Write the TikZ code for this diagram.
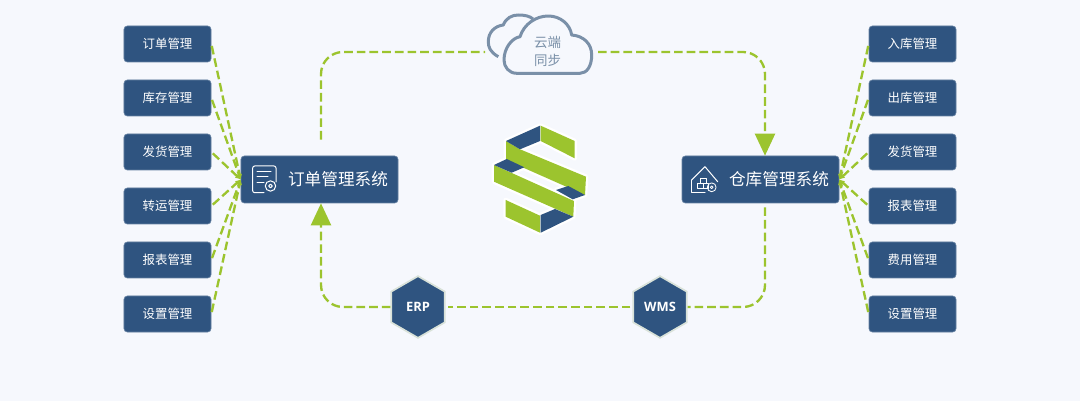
\documentclass[tikz,border=0pt]{standalone}
\usepackage{fontspec}
\setmainfont{Noto Sans CJK SC}
\newfontfamily\latinfont{Open Sans}
\usetikzlibrary{arrows.meta,shapes.geometric}
\definecolor{boxblue}{HTML}{2F5480}
\definecolor{linkgreen}{HTML}{9CC42E}
\definecolor{pagebg}{HTML}{F6F8FD}
\definecolor{cloudline}{HTML}{7A90A8}
\tikzset{
	leafbox/.style={draw=boxblue!75!white,fill=boxblue,rounded corners=.1cm,line width=.02cm,minimum width=2.61cm,minimum height=1.08cm,inner sep=0,text=white,font=\fontsize{10.6}{12}\selectfont},
	sysbox/.style={leafbox,minimum width=4.71cm,minimum height=1.41cm,font=\fontsize{14.2}{16}\selectfont},
	hexnode/.style={regular polygon,regular polygon sides=6,shape border rotate=30,draw=green!25!black!15!white,fill=boxblue,line width=.05cm,minimum size=1.85cm,inner sep=0,text=white,font=\latinfont\bfseries\fontsize{11}{13}\selectfont},
	link/.style={draw=linkgreen,line width=.07cm,dash pattern=on .26cm off .12cm},
	bigtip/.style={-{Triangle[length=.66cm,width=.6cm]}},
	smalltip/.style={-{Latex[length=.16cm,width=.16cm]}},
	iconline/.style={draw=white,line width=.03cm,line join=round,line cap=round}
}
% logo pieces
\def\logogreenparts{(540.7,125.7) -- (574.7,141) -- (574.7,158.3) -- (540.7,141) -- cycle
	(506,141) -- (520,149.3) -- (586,176.7) -- (585,195) -- (506,160) -- cycle
	(494,165) -- (574,201) -- (573.3,216.7) -- (494,181.7) -- cycle
	(505.7,200) -- (540,215.7) -- (540,232.7) -- (505.7,216.7) -- cycle}
\def\logoblueparts{(506,141) -- (540,125.7) -- (540,141) -- (520,149.3) -- cycle
	(494,165) -- (506.7,159) -- (524.3,167.3) -- (511.7,172.7) -- cycle
	(556,190) -- (568.3,186) -- (585,195) -- (572.7,199.3) -- cycle
	(540.7,215) -- (555,209) -- (573.3,216.7) -- (540.7,232.7) -- cycle}
\begin{document}
\begin{tikzpicture}[x=.03cm,y=-.03cm,>=latex]
	\fill[pagebg] (0,0) rectangle (1080,401);
	\useasboundingbox (0,0) rectangle (1080,401);
	% boxes
	\node[sysbox] (ordersys) at (319.5,179.5) {\raisebox{-.045cm}{\hspace*{1.11cm}订单管理系统}};
	\node[sysbox] (storesys) at (760.5,179.5) {\raisebox{-.045cm}{\hspace*{1.11cm}仓库管理系统}};
	\foreach \txt [count=\i] in {订单管理,库存管理,发货管理,转运管理,报表管理,设置管理}
		\node[leafbox] (orderitem\i) at (167.5,{44+54*(\i-1)}) {\raisebox{-.03cm}{\txt}};
	\foreach \txt [count=\i] in {入库管理,出库管理,发货管理,报表管理,费用管理,设置管理}
		\node[leafbox] (storeitem\i) at (912.5,{44+54*(\i-1)}) {\raisebox{-.03cm}{\txt}};
	\node[hexnode] (erp) at (418,307) {ERP};
	\node[hexnode] (wms) at (660,307) {WMS};
	% links to the items
	\foreach \i in {1,...,6} {
		\draw[link,smalltip,shorten <=.06cm] (orderitem\i.east) -- (ordersys.west);
		\draw[link,smalltip,shorten <=.06cm] (storeitem\i.west) -- (storesys.east);
	}
	% cloud
	\draw[cloudline,line width=.09cm,line join=round] (498.3,56.7) .. controls (490,52) and (488.3,47) .. (488.3,41.7) .. controls (488.3,32) and (495,26) .. (503.3,25) .. controls (506,18) and (512,15) .. (518.3,15) .. controls (524,15) and (530,16) .. (533,19);
	\draw[cloudline,fill=pagebg,line width=.09cm,line join=round] (516.7,73.3) .. controls (509,73.3) and (504,67) .. (504,60) .. controls (504,48) and (512,38) .. (520,36.7) .. controls (524,24) and (536,16) .. (548.3,16) .. controls (560,16) and (570,24) .. (571.7,35) .. controls (584,36) and (591.7,44) .. (591.7,55) .. controls (591.7,66) and (587,73.3) .. (580,73.3) -- cycle;
	\node[text=cloudline,align=center,inner sep=0,font=\fontsize{11.5}{15.5}\selectfont] (cloudtxt) at (547.5,51.5) {云端\\同步};
	\coordinate (cloudin) at (485,52);
	\coordinate (cloudout) at (598,52);
	% main loop
	\draw[link,rounded corners=.66cm,shorten <=.48cm] ([xshift=.045cm]ordersys.north) |- (cloudin);
	\draw[link,bigtip,rounded corners=.66cm] (cloudout) -| ([xshift=.135cm]storesys.north);
	\draw[link,rounded corners=.66cm,shorten <=.12cm] ([xshift=.135cm]storesys.south) |- (wms.east);
	\draw[link,shorten <=.06cm,shorten >=.06cm] (wms.west) -- (erp.east);
	\draw[link,bigtip,rounded corners=.66cm] (erp.west) -| ([xshift=.045cm]ordersys.south);
	% logo
	\draw[white,fill=white,line width=.14cm,line join=round] \logogreenparts \logoblueparts;
	\fill[linkgreen] \logogreenparts;
	\fill[boxblue] \logoblueparts;
	% order icon
	\draw[iconline,rounded corners=.06cm] (276,182) -- (276,166) -- (252.7,166) -- (252.7,192.7) -- (264,192.7);
	\draw[iconline] (257,171.5) -- (271,171.5) (257,177) -- (268,177) (257,182.5) -- (264,182.5);
	\draw[iconline] (270.5,186) circle (5.2);
	\draw[iconline] (270.5,186) circle (1.8);
	% store icon
	\draw[iconline] (691.7,180) -- (705,166.7) -- (717.7,181.7);
	\draw[iconline] (691.7,180) -- (691.7,192.3) -- (705,192.3);
	\draw[iconline,line width=.025cm] (697.3,183.3) rectangle (703,188.7) (703,183.3) rectangle (708.7,188.7) (700.3,178) rectangle (706,183.3);
	\draw[iconline,line width=.025cm] (711.7,187.3) circle (4.4);
	\draw[iconline,line width=.025cm] (711.7,187.3) circle (1.4);
\end{tikzpicture}
\end{document}
